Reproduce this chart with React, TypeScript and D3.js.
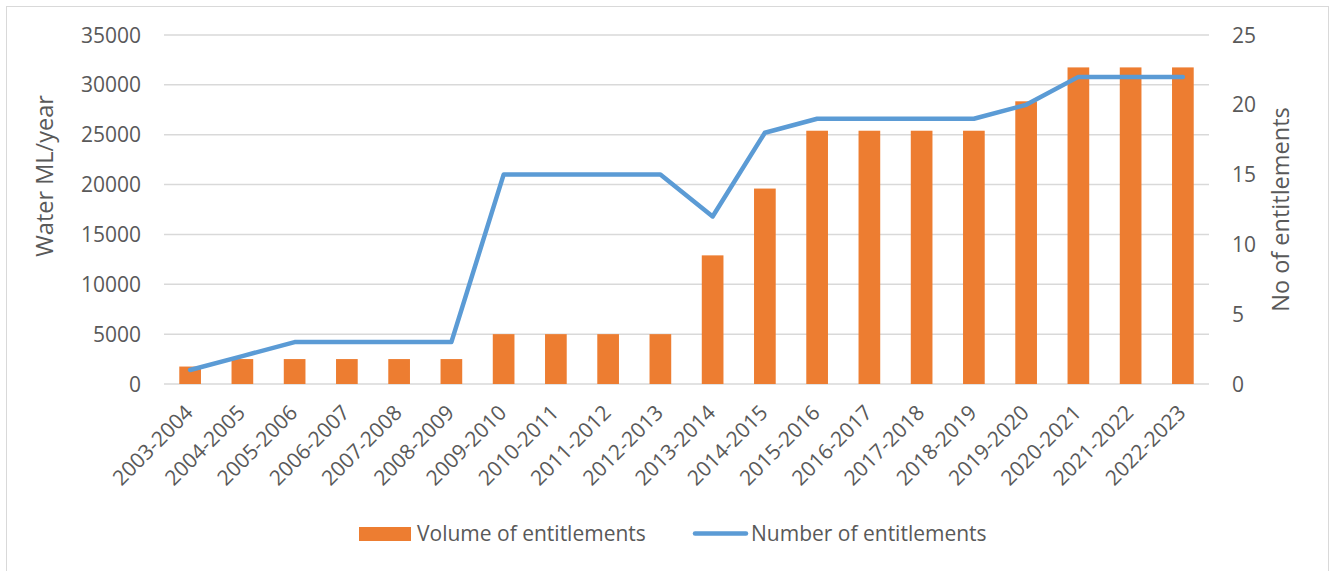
import React from "react";
import * as d3 from "d3";

const categories = [
  "2003-2004", "2004-2005", "2005-2006", "2006-2007", "2007-2008",
  "2008-2009", "2009-2010", "2010-2011", "2011-2012", "2012-2013",
  "2013-2014", "2014-2015", "2015-2016", "2016-2017", "2017-2018",
  "2018-2019", "2019-2020", "2020-2021", "2021-2022", "2022-2023",
];
const volumeOfEntitlements = [
  1750, 2500, 2500, 2500, 2500, 2500, 5000, 5000, 5000, 5000,
  12900, 19600, 25400, 25400, 25400, 25400, 28350, 31750, 31750, 31750,
];
const numberOfEntitlements = [
  1, 2, 3, 3, 3, 3, 15, 15, 15, 15, 12, 18, 19, 19, 19, 19, 20, 22, 22, 22,
];
const leftTicks = [0, 5000, 10000, 15000, 20000, 25000, 30000, 35000];
const rightTicks = [0, 5, 10, 15, 20, 25];

const W = 1330;
const H = 571;
const FONT = "'Open Sans', sans-serif";
const TXT = "#595959";
const GRID = "#d9d9d9";
const ORANGE = "#ed7d31";
const BLUE = "#5b9bd5";

export default function App() {
  const plot = { left: 164, right: 1209, top: 35, bottom: 384 };
  const x = d3
    .scaleBand<string>()
    .domain(categories)
    .range([plot.left, plot.right])
    .paddingInner(0.585)
    .paddingOuter(0.2925);
  const xc = d3.scaleBand<string>().domain(categories).range([plot.left, plot.right]);
  const yL = d3.scaleLinear().domain([0, 35000]).range([plot.bottom, plot.top]);
  const yR = d3.scaleLinear().domain([0, 25]).range([plot.bottom, plot.top]);

  const line = d3
    .line<number>()
    .x((_, i) => (xc(categories[i]) as number) + xc.bandwidth() / 2)
    .y((d) => yR(d));

  return (
    <svg
      width={W}
      height={H}
      style={{ position: "absolute", left: 0, top: 0, background: "#fff" }}
      fontFamily={FONT}
    >
      <rect x={6.5} y={6.5} width={1322} height={H + 5} fill="#fff" stroke={GRID} strokeWidth={1} />

      {leftTicks.map((t) => (
        <line key={"g" + t} x1={plot.left} x2={plot.right} y1={yL(t)} y2={yL(t)} stroke={GRID} strokeWidth={1.5} />
      ))}

      {volumeOfEntitlements.map((v, i) => (
        <rect
          key={"b" + i}
          x={x(categories[i])}
          y={yL(v)}
          width={x.bandwidth()}
          height={yL(0) - yL(v)}
          fill={ORANGE}
        />
      ))}

      <path
        d={line(numberOfEntitlements) || ""}
        fill="none"
        stroke={BLUE}
        strokeWidth={4.5}
        strokeLinejoin="round"
        strokeLinecap="round"
      />

      {leftTicks.map((t) => (
        <text key={"l" + t} x={141} y={yL(t)} dy="0.36em" textAnchor="end" fontSize={21} fill={TXT}>
          {t}
        </text>
      ))}
      {rightTicks.map((t) => (
        <text key={"r" + t} x={1232} y={yR(t)} dy="0.36em" textAnchor="start" fontSize={21} fill={TXT}>
          {t}
        </text>
      ))}

      {categories.map((c) => {
        const cx = (xc(c) as number) + xc.bandwidth() / 2;
        return (
          <text
            key={"x" + c}
            transform={`translate(${cx + 4},${plot.bottom + 30}) rotate(-45)`}
            textAnchor="end"
            fontSize={21}
            fill={TXT}
          >
            {c}
          </text>
        );
      })}

      <text
        transform={`translate(53,176) rotate(-90)`}
        textAnchor="middle"
        fontSize={23.5}
        fill={TXT}
      >
        Water ML/year
      </text>
      <text
        transform={`translate(1289,209.5) rotate(-90)`}
        textAnchor="middle"
        fontSize={23.5}
        fill={TXT}
      >
        No of entitlements
      </text>

      <rect x={359} y={527} width={52} height={14} fill={ORANGE} />
      <text x={417} y={541} fontSize={21} fill={TXT}>
        Volume of entitlements
      </text>
      <line x1={695} x2={746} y1={533.5} y2={533.5} stroke={BLUE} strokeWidth={4.5} strokeLinecap="round" />
      <text x={751} y={541} fontSize={21} fill={TXT}>
        Number of entitlements
      </text>
    </svg>
  );
}
